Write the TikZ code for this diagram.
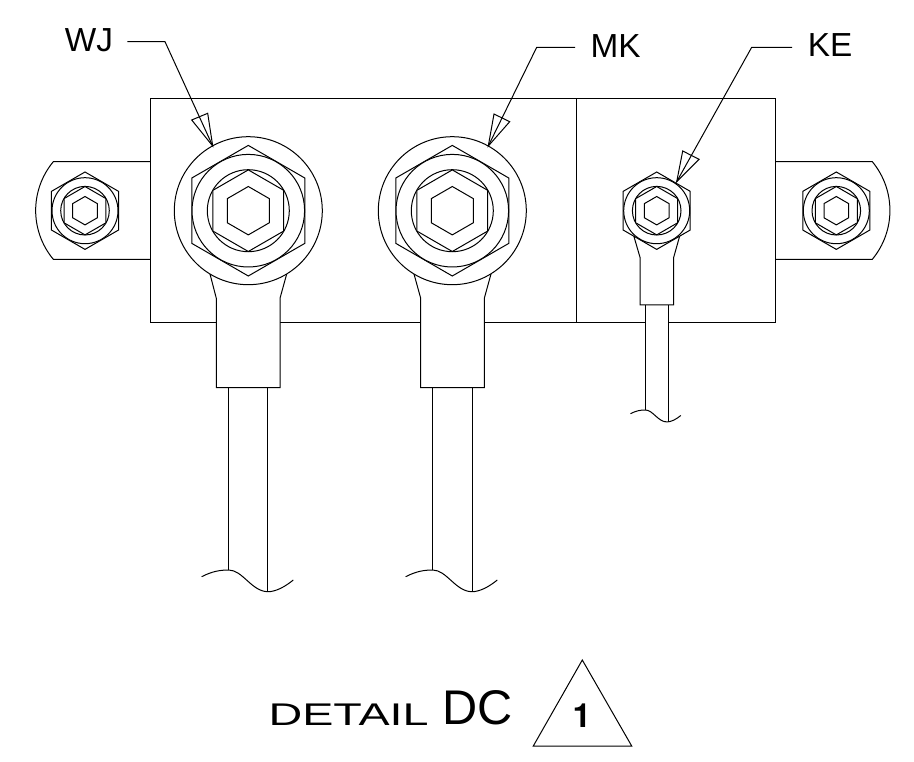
\documentclass[tikz,border=0pt]{standalone}
\usepackage{fontspec}
\setmainfont{Liberation Sans}
\newfontfamily\revfont{TeX Gyre Heros}
\usepackage{tikz}
\usetikzlibrary{calc}
\tikzset{
  partline/.style={line width=.75pt, black, line join=miter},
  partfill/.style={partline, fill=white},
  lbltext/.style={inner sep=0pt, font=\fontsize{25}{25}\selectfont},
}
\newcommand{\DrawHex}[2]{\draw [style=partfill] ($(#1)+(90:#2)$) \foreach \a in {150,210,270,330,30} {-- ($(#1)+(\a:#2)$)} -- cycle;}
\newcommand{\DrawBoltLarge}[1]{
  \draw [style=partfill] (#1) circle (74);
  \DrawHex{#1}{65.3}
  \draw [style=partfill] (#1) circle (56.3);
  \draw [style=partfill] (#1) circle (41);
  \DrawHex{#1}{40.8}
  \DrawHex{#1}{24.2}
}
\newcommand{\DrawBoltSmall}[1]{
  \DrawHex{#1}{38.7}
  \draw [style=partfill] (#1) circle (33);
  \draw [style=partfill] (#1) circle (24.3);
  \DrawHex{#1}{24.2}
  \DrawHex{#1}{14.2}
}
\newcommand{\DrawBreak}[2]{
  \draw [style=partline, shift={(#1)}, scale=#2] (-27,6.7) .. controls (-17,1.5) and (-9,0) .. (0,0)
    .. controls (14,0) and (23,21.7) .. (39.3,21.7) .. controls (47,21.7) and (56,17) .. (64.6,10);
}
\begin{document}
\begin{tikzpicture}[x=.75pt,y=-.75pt]
  \useasboundingbox (0,0) rectangle (914,762);

  \coordinate (boltA) at (85,210.7);
  \coordinate (boltB) at (248.3,210.7);
  \coordinate (boltC) at (452.3,210.7);
  \coordinate (boltD) at (656.7,210.7);
  \coordinate (boltE) at (836.3,210.7);

  % block and tabs
  \draw [style=partline] (150.7,99) rectangle (775.3,322.3);
  \draw [style=partline] (576,99) -- (576,322.3);
  \draw [style=partline] (150.7,161.7) -- (53.3,161.7) .. controls (29.8,190) and (29.8,231) .. (53.3,259.3) -- (150.7,259.3);
  \draw [style=partline] (775.3,161.7) -- (872.3,161.7) .. controls (895.8,190) and (895.8,231) .. (872.3,259.3) -- (775.3,259.3);

  % cables
  \draw [style=partfill] (228.7,387.7) -- (228.7,570) (267.7,387.7) -- (267.7,591.7);
  \draw [style=partfill] (432.7,387.7) -- (432.7,570) (472,387.7) -- (472,591.7);
  \fill [white] (645.3,305) rectangle (668.3,410);
  \draw [style=partline] (645.3,305) -- (645.3,410) (668.3,305) -- (668.3,421);
  \DrawBreak{228.7,570}{1}
  \DrawBreak{432.7,570}{1}
  \DrawBreak{645.3,410}{.55}

  % lugs
  \draw [style=partfill] (210,274) -- (216.3,298.3) -- (216.3,387.7) -- (280,387.7) -- (280,298.3) -- (286.7,274) -- cycle;
  \draw [style=partfill] (414,274) -- (420.7,298.3) -- (420.7,387.7) -- (484.3,387.7) -- (484.3,298.3) -- (491,274) -- cycle;
  \draw [style=partfill] (634,236.7) -- (640,257.3) -- (640,305) -- (673.7,305) -- (673.7,257.3) -- (679.5,236.7) -- cycle;

  \DrawBoltSmall{boltA}
  \DrawBoltLarge{boltB}
  \DrawBoltLarge{boltC}
  \DrawBoltSmall{boltD}
  \DrawBoltSmall{boltE}

  \node [style=lbltext] (lblWJ) at (89,40.5) {WJ};
  \node [style=lbltext] (lblMK) at (615.5,46) {MK};
  \node [style=lbltext] (lblKE) at (830,45.5) {KE};

  \coordinate (tipWJ) at (212.7,146);
  \coordinate (tipMK) at (488.3,146);
  \coordinate (tipKE) at (676.7,181.7);

  % leaders
  \draw [style=partline] ($(lblWJ.east)+(14,1.2)$) -- (165,41.7) -- (tipWJ);
  \draw [style=partline] ($(lblMK.west)+(-15,1.3)$) -- (536.7,47.3) -- (tipMK);
  \draw [style=partline] ($(lblKE.west)+(-15.5,1.8)$) -- (751.7,47.3) -- (tipKE);
  \draw [style=partline] (tipWJ) -- (191.7,120) -- (207.7,113.3) -- cycle;
  \draw [style=partline] (tipMK) -- (494,114) -- (509.7,121.7) -- cycle;
  \draw [style=partline] (tipKE) -- (682.7,151) -- (699,159.3) -- cycle;

  % title
  \node [inner sep=0pt] (lblDetail) at (348.6,714.5) {\scalebox{1.49}[1]{\fontsize{23.5}{24}\selectfont DETAIL}};
  \node [inner sep=0pt, font=\fontsize{36.5}{37}\selectfont] (lblDC) at (477.8,708.2) {DC};
  \coordinate (triTop) at (582.3,660);
  \draw [style=partline] (triTop) -- (631.7,746) -- (533.3,746) -- cycle;
  \node [inner sep=0pt, font=\revfont\bfseries\fontsize{25}{25}\selectfont] (lblRev) at (582,716) {1};
\end{tikzpicture}
\end{document}
